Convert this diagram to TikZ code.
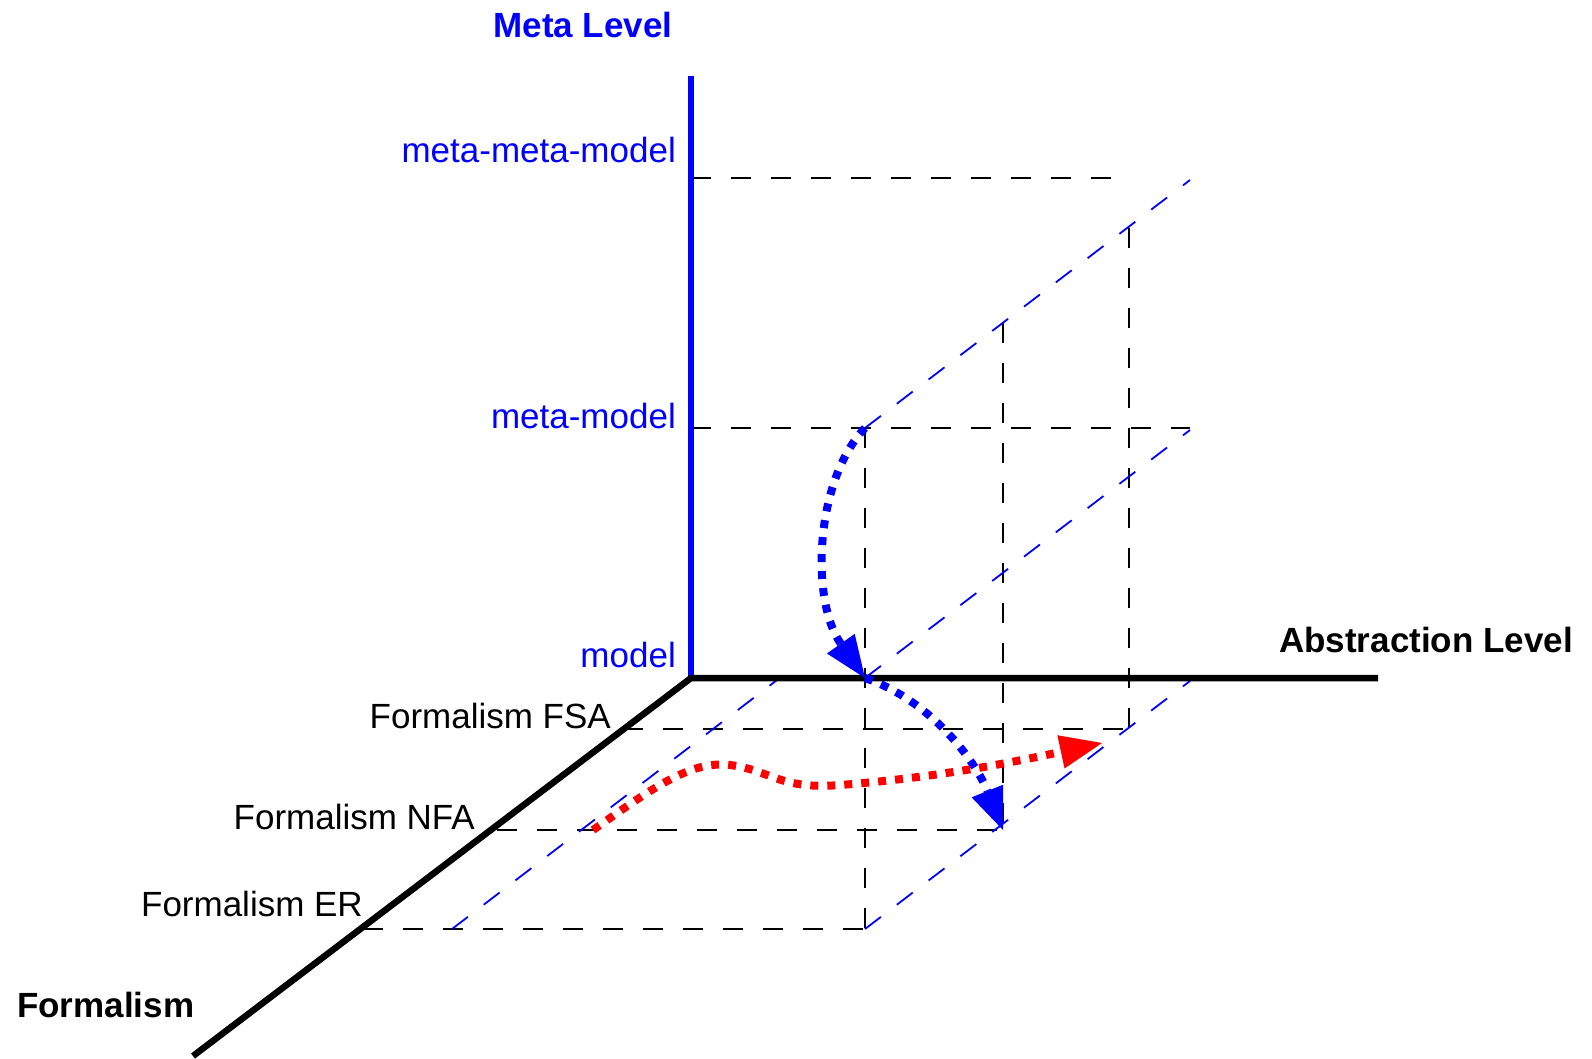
\documentclass[tikz,border=0pt]{standalone}
\usepackage{fontspec}
\setmainfont{Liberation Sans}
\usetikzlibrary{arrows.meta}
\definecolor{pblue}{RGB}{0,0,255}
\definecolor{pred}{RGB}{255,0,0}
\begin{document}
\begin{tikzpicture}[x=1pt,y=-1pt,
  axisline/.style={line width=6.5pt},
  gridline/.style={line width=2.2pt, dash pattern=on 20pt off 20pt},
  bgridline/.style={pblue, line width=1.8pt, dash pattern=on 20pt off 20pt},
  dotarrow/.style={line width=8pt, dash pattern=on 8pt off 9pt,
     -{Triangle[length=42pt,width=34pt,line width=0pt]}},
  lbl/.style={font=\fontsize{35}{42}\selectfont, inner sep=0pt},
  blbl/.style={font=\fontsize{35}{42}\selectfont\bfseries, inner sep=0pt}]
\useasboundingbox[fill=white] (0,0) rectangle (1592,1058);
% coordinates
\coordinate (O) at (691,678);
\coordinate (Vtop) at (691,76);
\coordinate (Hend) at (1378,678);
\coordinate (Dend) at (193,1056);
\coordinate (MMl) at (691,178);
\coordinate (MMr) at (1117,178);
\coordinate (Ml) at (691,428);
\coordinate (Mr) at (1190,428);
\coordinate (A1t) at (865,428);
\coordinate (A1m) at (865,678);
\coordinate (A1b) at (865,929);
\coordinate (A2t) at (1003,323);
\coordinate (A2b) at (1003,830);
\coordinate (A3t) at (1129,228);
\coordinate (A3b) at (1129,729);
\coordinate (FSAl) at (623,729);
\coordinate (NFAl) at (497,830);
\coordinate (ERl) at (363,929);
\coordinate (B1e) at (1190,180);
\coordinate (B2e) at (1190,430);
\coordinate (B4e) at (1190,681);
\coordinate (B5s) at (452,929);
\coordinate (B5e) at (777,680);
\coordinate (Rs) at (593,830);
\coordinate (Rp) at (730,765);
\coordinate (Rd) at (840,785);
\coordinate (Rt) at (1102,743);
% black dashed grid
\draw[gridline] (MMl) -- (MMr);
\draw[gridline] (Ml) -- (Mr);
\draw[gridline] (A1t) -- (A1b);
\draw[gridline] (A2t) -- (A2b);
\draw[gridline] (A3t) -- (A3b);
\draw[gridline] (FSAl) -- (A3b);
\draw[gridline] (NFAl) -- (A2b);
\draw[gridline] (ERl) -- (A1b);
% blue dashed
\draw[bgridline] (A1t) -- (B1e);
\draw[bgridline] (A1m) -- (B2e);
\draw[bgridline] (A1b) -- (B4e);
\draw[bgridline] (B5s) -- (B5e);
% axes
\draw[axisline, pblue] (O) -- (Vtop);
\draw[axisline, line join=round] (Hend) -- (O) -- (Dend);
% arrows
\draw[dotarrow, pblue] (A1t) .. controls (815,480) and (810,600) .. (A1m);
\draw[dotarrow, pblue] (A1m) .. controls (930,700) and (975,760) .. (A2b);
\draw[dotarrow, pred] (Rs) .. controls (650,790) and (690,760) .. (Rp)
   .. controls (770,770) and (780,790) .. (Rd)
   .. controls (930,778) and (1000,765) .. (Rt);
% labels
\node[blbl, pblue, anchor=base] (ml) at (583,37) {Meta Level};
\node[lbl, pblue, anchor=base east] (mmm) at (676,162) {meta-meta-model};
\node[lbl, pblue, anchor=base east] (mm) at (676,428) {meta-model};
\node[lbl, pblue, anchor=base east] (md) at (676,667) {model};
\node[blbl, anchor=base west] (al) at (1279,652) {Abstraction Level};
\node[lbl, anchor=base east] (fsa) at (611,728) {Formalism FSA};
\node[lbl, anchor=base east] (nfa) at (475,829) {Formalism NFA};
\node[lbl, anchor=base east] (er) at (363,916) {Formalism ER};
\node[blbl, anchor=base west] (fm) at (17,1017) {Formalism};
\end{tikzpicture}
\end{document}
